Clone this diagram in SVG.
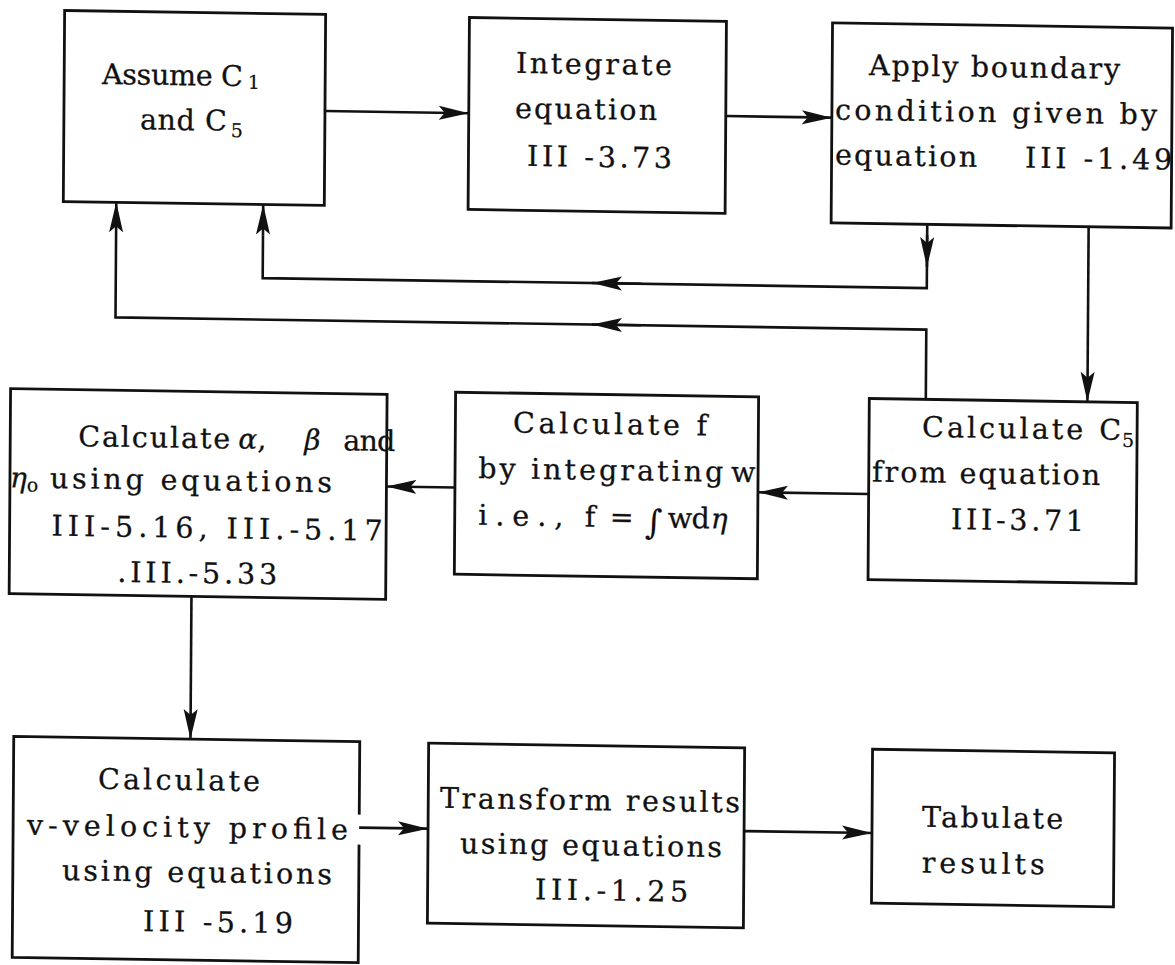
<svg xmlns="http://www.w3.org/2000/svg" width="1175" height="965" viewBox="0 0 1175 965">
  <defs>
    <marker id="arw" viewBox="0 0 30 16" refX="30" refY="8" markerWidth="30" markerHeight="16" markerUnits="userSpaceOnUse" orient="auto">
      <path d="M0,1 L30,8 L0,15 L6,8 Z" fill="#111"/>
    </marker>
    <style>
      .box { fill: none; stroke: #111; stroke-width: 2.8; }
      .ln { fill: none; stroke: #111; stroke-width: 2.6; }
      .ah { fill: none; stroke: #111; stroke-width: 2.6; marker-end: url(#arw); }
      .t { font-family: "DejaVu Serif", "Liberation Serif", serif; font-size: 28.5px; fill: #111; stroke: #111; stroke-width: 0.3; }
      .s { font-family: "DejaVu Serif", "Liberation Serif", serif; font-size: 19px; fill: #111; stroke: #111; stroke-width: 0.2; }
      .g { font-family: "DejaVu Serif", "Liberation Serif", serif; font-style: italic; font-size: 28px; fill: #111; stroke: #111; stroke-width: 0.3; }
      .i { font-family: "DejaVu Serif", "Liberation Serif", serif; font-size: 34px; fill: #111; }
    </style>
  </defs>
  <rect width="1175" height="965" fill="#fff"/>

  <!-- whole sheet sits slightly skewed on the page -->
  <g transform="matrix(1,0.015,-0.007,1,3.37,-8.8)">

    <g id="connectors">
      <path class="ah" d="M322.4,115 H466.2"/>
      <path class="ah" d="M723.2,114 H829.3"/>
      <!-- first feedback loop -->
      <path class="ln" d="M925.4,219.3 V283 H261.3 V240"/>
      <path class="ah" d="M925.4,230 V262"/>
      <path class="ah" d="M640,283 H590.6"/>
      <path class="ah" d="M261.3,240 V209.4"/>
      <!-- second feedback loop -->
      <path class="ln" d="M925.2,394.3 V324.5 H114.4 V240"/>
      <path class="ah" d="M640,324.5 H590.9"/>
      <path class="ah" d="M114.4,240 V209.4"/>
      <!-- main flow -->
      <path class="ah" d="M1086.8,219.3 V394.3"/>
      <path class="ah" d="M868.7,489.7 H758"/>
      <path class="ah" d="M455,489.5 H386.5"/>
      <path class="ah" d="M192.3,602.3 V745"/>
      <path class="ah" d="M361.6,831 H430.5"/>
      <path class="ah" d="M746.5,828.7 H874.4"/>
    </g>

    <g id="assume">
      <rect class="box" x="61.4" y="18.4" width="261" height="191"/>
      <text class="t" x="99.2" y="91.2" textLength="141" lengthAdjust="spacing">Assume C</text>
      <text class="s" x="245" y="94">1</text>
      <text class="t" x="137.5" y="136.1" textLength="87" lengthAdjust="spacing">and C</text>
      <text class="s" x="228.5" y="142.4">5</text>
    </g>

    <g id="integrate">
      <rect class="box" x="466.2" y="19.3" width="257" height="192"/>
      <text class="t" x="513.1" y="73.9" textLength="156" lengthAdjust="spacing">Integrate</text>
      <text class="t" x="512.5" y="119" textLength="142" lengthAdjust="spacing">equation</text>
      <text class="t" x="524.8" y="166.8" textLength="145" lengthAdjust="spacing">III -3.73</text>
    </g>

    <g id="boundary">
      <rect class="box" x="829.3" y="19.3" width="340" height="200"/>
      <text class="t" x="866.2" y="70.9" textLength="251" lengthAdjust="spacing">Apply boundary</text>
      <text class="t" x="832.5" y="115.9" textLength="322" lengthAdjust="spacing">condition given by</text>
      <text class="t" x="832.8" y="160.9" textLength="142" lengthAdjust="spacing">equation</text>
      <text class="t" x="1022.8" y="160.9" textLength="147" lengthAdjust="spacing">III -1.49</text>
    </g>

    <g id="calc-c5">
      <rect class="box" x="868.7" y="394.3" width="268" height="181"/>
      <text class="t" x="921.7" y="431.8" textLength="161" lengthAdjust="spacing">Calculate</text>
      <text class="t" x="1099" y="431.8">C</text>
      <text class="s" x="1121.7" y="438.8">5</text>
      <text class="t" x="872" y="477.3" textLength="228" lengthAdjust="spacing">from equation</text>
      <text class="t" x="951.3" y="523.5" textLength="133" lengthAdjust="spacing">III-3.71</text>
    </g>

    <g id="calc-f">
      <rect class="box" x="455" y="394.2" width="303" height="182"/>
      <text class="t" x="512.7" y="433.7" textLength="194" lengthAdjust="spacing">Calculate f</text>
      <text class="t" x="478.3" y="479.6" textLength="245" lengthAdjust="spacing">by integrating</text>
      <text class="t" x="731" y="479.6">w</text>
      <text class="t" x="478.6" y="526.5" textLength="85" lengthAdjust="spacing">i.e.,</text>
      <text class="t" x="585" y="526.5">f</text>
      <text class="t" x="610" y="526.5">=</text>
      <text class="i" x="645" y="533">∫</text>
      <text class="t" x="668" y="526.5" textLength="42" lengthAdjust="spacing">wd</text>
      <text class="g" x="711" y="526.5">η</text>
    </g>

    <g id="calc-alpha">
      <rect class="box" x="10" y="397.3" width="376.5" height="205"/>
      <text class="t" x="78" y="453.8" textLength="152" lengthAdjust="spacing">Calculate</text>
      <text class="g" x="238" y="453.8">α</text>
      <text class="t" x="257" y="453.8">,</text>
      <text class="g" x="304" y="453.8">β</text>
      <text class="t" x="343" y="453.8" textLength="52" lengthAdjust="spacing">and</text>
      <text class="g" x="10" y="496">η</text>
      <text class="s" x="27" y="500">o</text>
      <text class="t" x="50" y="496" textLength="282" lengthAdjust="spacing">using equations</text>
      <text class="t" x="52" y="543.6" textLength="331" lengthAdjust="spacing">III-5.16, III.-5.17</text>
      <text class="t" x="118" y="588.8" textLength="160" lengthAdjust="spacing">.III.-5.33</text>
    </g>

    <g id="calc-v">
      <path class="box" d="M361.6,818 V745 H15.6 V966 H361.6 V848"/>
      <text class="t" x="100.2" y="796" textLength="162" lengthAdjust="spacing">Calculate</text>
      <text class="t" x="29.5" y="843" textLength="321" lengthAdjust="spacing">v-velocity profile</text>
      <text class="t" x="64.8" y="887.9" textLength="270" lengthAdjust="spacing">using equations</text>
      <text class="t" x="146.1" y="937.5" textLength="150" lengthAdjust="spacing">III -5.19</text>
    </g>

    <g id="transform">
      <rect class="box" x="430.5" y="745.5" width="316" height="180"/>
      <text class="t" x="442.3" y="810" textLength="300" lengthAdjust="spacing">Transform results</text>
      <text class="t" x="462.6" y="855" textLength="262" lengthAdjust="spacing">using equations</text>
      <text class="t" x="538" y="900" textLength="153" lengthAdjust="spacing">III.-1.25</text>
    </g>

    <g id="tabulate">
      <rect class="box" x="874.4" y="744.9" width="242" height="154"/>
      <text class="t" x="924.4" y="821.6" textLength="141" lengthAdjust="spacing">Tabulate</text>
      <text class="t" x="924.4" y="867.4" textLength="123" lengthAdjust="spacing">results</text>
    </g>
  </g>
</svg>
